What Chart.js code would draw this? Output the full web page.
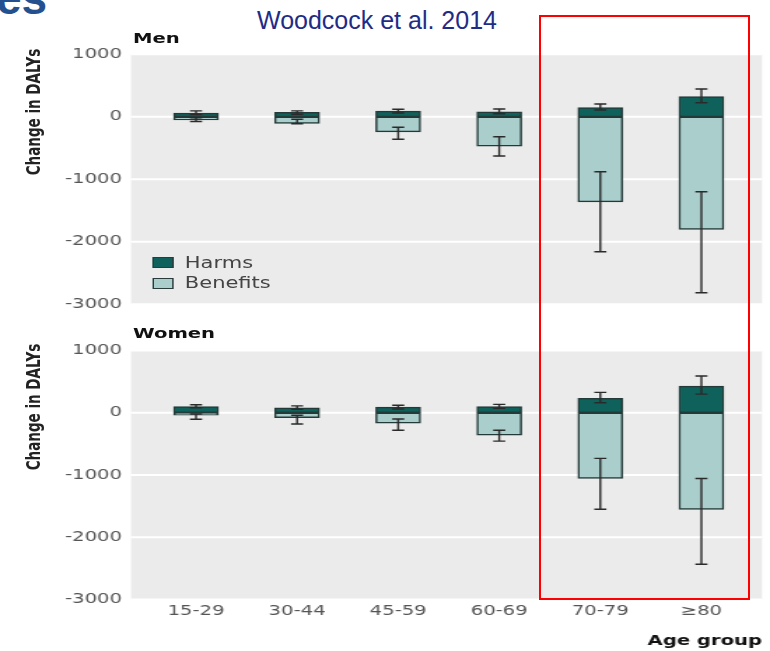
<!DOCTYPE html>
<html>
<head>
<meta charset="utf-8">
<script src="https://cdn.jsdelivr.net/npm/chart.js@4"></script>
<style>
  body { margin: 0; background: #fff; width: 770px; height: 651px; overflow: hidden; position: relative; font-family: "DejaVu Sans", sans-serif; }
  /* the source picture is stretched sideways, so the whole chart is drawn narrow and widened */
  #stage { position: absolute; left: 0; top: 0; width: 550px; height: 651px; transform: scaleX(1.4); transform-origin: 0 0; }
  #stage canvas { position: absolute; left: 0; }
  .panel-title { position: absolute; left: 95px; font: bold 14px "DejaVu Sans", sans-serif; color: #111; line-height: 1; }
  .ytitle { position: absolute; left: 24px; font: bold 13.5px "DejaVu Sans", sans-serif; color: #222; white-space: nowrap; line-height: 1; transform: translate(-50%, -50%) rotate(-90deg); }
  .leg-box { position: absolute; left: 109px; width: 15px; height: 11px; box-sizing: border-box; border: 1.5px solid #2b3b3b; }
  .leg-text { position: absolute; left: 132px; font: 15px "DejaVu Sans", sans-serif; color: #444; line-height: 1; }
  #cite { position: absolute; left: 257px; top: 8px; font: 25px "Liberation Sans", Arial, sans-serif; color: #1f2c86; line-height: 1; white-space: nowrap; }
  #slideTitle { position: absolute; left: -4px; top: -25px; font: bold 46px "Liberation Sans", Arial, sans-serif; color: #24508f; line-height: 1; }
  #redBox { position: absolute; left: 539px; top: 15px; width: 211px; height: 585px; box-sizing: border-box; border: 2px solid #ff0000; }
</style>
</head>
<body>
<div id="slideTitle">es</div>
<div id="cite">Woodcock et al. 2014</div>

<div id="stage">
  <canvas id="menChart" width="550" height="325" style="top:0"></canvas>
  <canvas id="womenChart" width="550" height="326" style="top:325px"></canvas>

  <div class="panel-title" style="top:31px">Men</div>
  <div class="panel-title" style="top:326px">Women</div>
  <div class="ytitle" style="top:112px">Change in DALYs</div>
  <div class="ytitle" style="top:407px">Change in DALYs</div>

  <div class="leg-box" id="legHarms" style="top:257px"></div>
  <div class="leg-text" style="top:255.5px">Harms</div>
  <div class="leg-box" id="legBenefits" style="top:278px"></div>
  <div class="leg-text" style="top:276px">Benefits</div>
</div>

<div id="redBox"></div>

<script>
const ageGroups = ['15-29', '30-44', '45-59', '60-69', '70-79', '≥80'];
const yTicks = [1000, 0, -1000, -2000, -3000];

// Men
const menHarms = [60, 70, 90, 80, 146, 322];
const menBenefits = [-50, -105, -240, -470, -1360, -1800];
const menHarmsLow = [35, 40, 60, 50, 109, 226];
const menHarmsHigh = [95, 95, 120, 125, 205, 445];
const menBenefitsHigh = [-15, -40, -168, -318, -878, -1198];
const menBenefitsLow = [-75, -110, -360, -627, -2158, -2814];

// Women
const womenHarms = [100, 80, 90, 100, 231, 429];
const womenBenefits = [-40, -80, -165, -360, -1055, -1553];
const womenHarmsLow = [80, 55, 60, 70, 161, 300];
const womenHarmsHigh = [130, 110, 120, 135, 328, 590];
const womenBenefitsHigh = [-20, -40, -100, -280, -733, -1055];
const womenBenefitsLow = [-105, -180, -280, -455, -1548, -2432];

const harmsColor = '#0f625c';
const benefitsColor = '#a9cecc';
const edgeColor = '#243a38';

document.getElementById('legHarms').style.background = harmsColor;
document.getElementById('legBenefits').style.background = benefitsColor;

Chart.defaults.font.family = '"DejaVu Sans", sans-serif';

// gray panel + white grid lines behind the bars
// (drawn here so the bars are not pulled back from the zero line)
const panelBg = {
  id: 'panelBg',
  beforeDatasetsDraw(chart) {
    const a = chart.chartArea;
    const ctx = chart.ctx;
    const y = chart.scales.y;
    ctx.save();
    ctx.fillStyle = '#ebebeb';
    ctx.fillRect(a.left, a.top, a.right - a.left, a.bottom - a.top);
    ctx.strokeStyle = '#ffffff';
    ctx.lineWidth = 2;
    yTicks.forEach(v => {
      const py = y.getPixelForValue(v);
      ctx.beginPath();
      ctx.moveTo(a.left, py);
      ctx.lineTo(a.right, py);
      ctx.stroke();
    });
    ctx.restore();
  }
};

function errorBarPlugin(ranges) {
  return {
    id: 'errorBars',
    afterDatasetsDraw(chart) {
      const ctx = chart.ctx;
      const x = chart.scales.x, y = chart.scales.y;
      const cap = 4.3;
      ctx.save();
      ctx.strokeStyle = '#2a2a2a';
      ctx.lineWidth = 1.4;
      ranges.forEach(([lo, hi]) => {
        lo.forEach((v, i) => {
          const px = x.getPixelForValue(i);
          const y1 = y.getPixelForValue(v);
          const y2 = y.getPixelForValue(hi[i]);
          ctx.beginPath();
          ctx.moveTo(px, y1); ctx.lineTo(px, y2);
          ctx.moveTo(px - cap, y1); ctx.lineTo(px + cap, y1);
          ctx.moveTo(px - cap, y2); ctx.lineTo(px + cap, y2);
          ctx.stroke();
        });
      });
      ctx.restore();
    }
  };
}

function makePanel(id, harms, benefits, ranges, isBottom) {
  const ctx = document.getElementById(id).getContext('2d');
  const bar = (label, vals, color) => ({
    label: label,
    data: vals.map((v, i) => ({ x: i, y: v })),
    backgroundColor: color,
    borderColor: edgeColor,
    borderWidth: 1.5,
    borderSkipped: false,
    barThickness: 32
  });
  return new Chart(ctx, {
    type: 'bar',
    data: {
      datasets: [
        bar('Harms', harms, harmsColor),
        bar('Benefits', benefits, benefitsColor)
      ]
    },
    options: {
      responsive: false,
      animation: false,
      layout: {
        padding: isBottom
          ? { top: 25.5, bottom: 1.5, left: 0, right: 5.7 }
          : { top: 54.3, bottom: 20.7, left: 0, right: 5.7 }
      },
      plugins: {
        legend: { display: false },
        tooltip: { enabled: false }
      },
      scales: {
        x: {
          type: 'linear',
          stacked: true,
          offset: false,
          min: -0.643,
          max: 5.6,
          display: isBottom,
          grid: { display: false, drawTicks: false },
          border: { display: false },
          afterBuildTicks: s => { s.ticks = ageGroups.map((_, i) => ({ value: i })); },
          afterFit: s => {
            s.height = isBottom ? 49.9 : 0;
            s.paddingLeft = 0;
            s.paddingRight = 0;
          },
          ticks: {
            autoSkip: false,
            maxRotation: 0,
            padding: 3,
            color: '#555',
            font: { size: 14 },
            callback: v => ageGroups[v]
          },
          title: {
            display: isBottom,
            text: 'Age group',
            align: 'end',
            color: '#111',
            padding: 0,
            font: { size: 14, weight: 'bold' }
          }
        },
        y: {
          stacked: true,
          min: -3000,
          max: 1000,
          afterBuildTicks: s => { s.ticks = yTicks.map(v => ({ value: v })); },
          afterFit: s => { s.width = 93.6; s.paddingTop = 0; s.paddingBottom = 0; },
          grid: { display: false, drawTicks: false },
          border: { display: false },
          ticks: {
            padding: 6.5,
            color: '#555',
            font: { size: 14 },
            callback: v => String(v)
          }
        }
      }
    },
    plugins: [panelBg, errorBarPlugin(ranges)]
  });
}

makePanel('menChart', menHarms, menBenefits,
  [[menHarmsLow, menHarmsHigh], [menBenefitsLow, menBenefitsHigh]], false);
makePanel('womenChart', womenHarms, womenBenefits,
  [[womenHarmsLow, womenHarmsHigh], [womenBenefitsLow, womenBenefitsHigh]], true);
</script>
</body>
</html>
